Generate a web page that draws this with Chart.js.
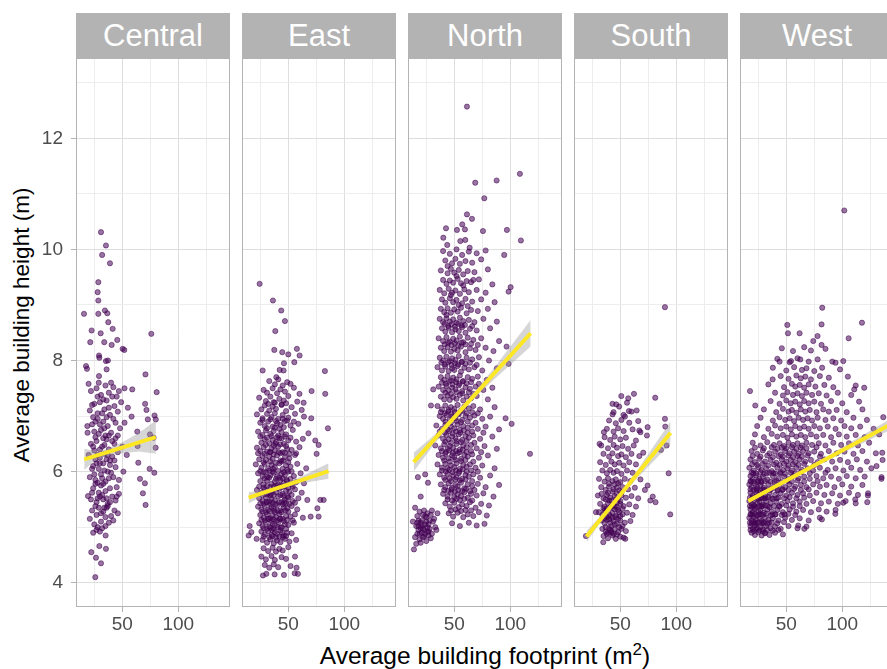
<!DOCTYPE html>
<html>
<head>
<meta charset="utf-8">
<script src="https://cdn.jsdelivr.net/npm/chart.js@4.4.0/dist/chart.umd.min.js"></script>
<style>
  body { margin: 0; width: 887px; height: 669px; overflow: hidden; position: relative; background: #fff;
         font-family: "Liberation Sans", Arial, sans-serif; }
  canvas { position: absolute; }
  .strip { position: absolute; top: 13px; height: 45px; width: 154px; background: #b3b3b3; color: #fff;
           font-size: 31px; line-height: 45px; text-align: center; }
  #xtitle { position: absolute; left: 76px; width: 818px; top: 642px; height: 28px; line-height: 28px;
            text-align: center; font-size: 24.5px; color: #000; white-space: nowrap; }
  #xtitle sup { font-size: 17px; line-height: 0; }
  #ytitle { position: absolute; left: -128px; top: 311px; width: 300px; height: 28px; line-height: 28px;
            text-align: center; font-size: 22.5px; color: #000; transform: rotate(-90deg); white-space: nowrap; }
</style>
</head>
<body>
<div id="ytitle">Average building height (m)</div>
<div id="xtitle">Average building footprint (m<sup>2</sup>)</div>
<script>
// facets and axis breaks
const regions = ['Central', 'East', 'North', 'South', 'West'];
const xTicks = [25, 50, 75, 100, 125];
const xLabels = [50, 100];
const yTicks = [4, 5, 6, 7, 8, 9, 10, 11, 12, 13];
const yLabels = [4, 6, 8, 10, 12];

// points: [footprint m2, height m]
const centralPts = [
  [31,10.31],[35.4,10.07],[32,9.9],[39,9.75],[28.6,9.41],[28,9.23],[28.6,9.08],[15.8,8.84],[28.6,8.84],[34.5,8.9],
  [36.6,8.85],[37.5,8.69],[22.6,8.54],[30.7,8.49],[41.4,8.57],[75.9,8.48],[21.4,8.33],[33.9,8.33],[40.5,8.28],[45.5,8.37],
  [50.3,8.21],[51.8,8.19],[29.2,8.09],[29.5,8.05],[35.4,7.99],[37.2,8.0],[17.6,7.9],[18.5,7.85],[36,7.84],[29.2,7.72],
  [70.7,7.75],[80.7,7.43],[19.9,7.58],[70.4,7.22],[71.6,7.11],[72.8,6.94],[78.8,7.01],[79.9,6.94],[74.7,6.67],[78,6.61],
  [79.8,6.43],[63.4,6.72],[58.3,6.99],[58.9,7.48],[63.7,6.46],[64.3,6.16],[65.8,5.87],[70.2,5.79],[68.4,5.61],[70.8,5.4],
  [74.4,6.05],[78.6,5.98],[18.8,6.82],[19.4,5.56],[22.3,4.55],[26.5,4.45],[31,4.35],[25.9,4.1],[29.5,4.66],[35.4,4.61],[35.1,4.85],
  [22,7.45],[27,7.5],[31,7.38],[35,7.55],[38,7.42],[42,7.52],[45,7.35],[29,7.6],[33,7.3],[40,7.6],[47,7.45],[52,7.5],
  [21,7.1],[25,7.22],[28,7.05],[30,7.25],[34,7.12],[36,7.28],[39,7.02],[43,7.18],[46,7.08],[49,7.25],[55,7.15],[24,6.98],
  [19,6.7],[23,6.85],[26,6.62],[28,6.95],[31,6.75],[33,6.9],[35,6.65],[37,6.82],[40,6.7],[42,6.95],[44,6.6],[48,6.78],[52,6.88],[29,6.68],[36,6.98],
  [20,6.3],[22,6.5],[25,6.38],[27,6.55],[30,6.25],[32,6.45],[34,6.32],[36,6.58],[38,6.4],[41,6.27],[43,6.5],[46,6.35],[50,6.45],[54,6.3],[26,6.22],[33,6.6],[39,6.2],
  [21,5.9],[24,6.1],[26,5.85],[29,6.05],[31,5.95],[33,6.15],[35,5.82],[37,6.0],[39,6.12],[42,5.9],[44,6.08],[47,5.85],[51,6.0],[28,5.8],[34,6.02],[40,5.98],
  [22,5.5],[24,5.7],[27,5.45],[29,5.62],[31,5.75],[33,5.5],[35,5.65],[37,5.42],[39,5.7],[41,5.55],[44,5.48],[47,5.6],[26,5.78],[32,5.58],[36,5.52],
  [21,5.15],[23,5.3],[25,5.05],[27,5.22],[29,5.35],[31,5.1],[33,5.28],[35,5.18],[37,5.38],[40,5.2],[43,5.3],[46,5.25],[28,5.0],[32,4.98],[38,5.08],[24,4.9],[30,4.92],
  [30,6.85],[34,6.48],[27,6.15],[32,5.88],[36,5.35],[30,5.55],[38,6.65],[25,6.72],[41,7.35],[28,7.35],
  [23,7.2],[32,7.05],[38,7.15],[44,6.88],[26,6.9],[34,6.78],[41,6.55],[46,6.65],[24,6.45],[30,6.4],[37,6.3],[28,6.3],
  [23,6.05],[30,6.15],[36,6.22],[43,6.2],[25,5.95],[33,5.78],[38,5.88],[45,5.72],[23,5.62],[28,5.52],[34,5.35],[39,5.45],
  [42,5.12],[26,5.38],[31,5.25],[35,5.02],[27,4.95],[45,5.55]
];

const eastPts = [
  [24.4,9.38],[36.3,9.08],[43.7,8.9],[47,8.71],[38.4,8.53],[37.5,8.19],[44.6,8.15],[50,8.11],[57.7,8.21],[60.1,8.09],
  [55.4,7.97],[46.1,7.95],[27.1,7.82],[42.3,7.83],[45.8,7.82],[39.3,7.7],[82.7,7.81],[83,7.4],[70.8,7.45],[85.4,6.78],
  [63.7,7.24],[70.5,6.96],[74.1,6.56],[77.1,6.48],[75.3,6.32],[78.6,5.49],[81.6,5.49],[77.1,5.19],[76,5.34],[70,5.19],
  [15.5,5.02],[14.6,4.85],[21.7,4.79],[17,4.91],[55.7,4.17],[58.6,4.16],[57.4,4.27],[27.4,4.13],[30.4,4.16],[37.8,4.15],[46.1,4.14],
  [33,7.63],[38,7.57],[41,7.66],[45,7.55],[49,7.61],[52,7.58],
  [28,7.47],[31,7.42],[36,7.5],[40,7.41],[43,7.48],[47,7.44],[55,7.51],[60,7.4],
  [24,7.33],[30,7.27],[34,7.35],[37,7.25],[42,7.31],[46,7.28],[50,7.36],[58,7.26],
  [26,7.12],[29,7.19],[33,7.1],[36,7.17],[39,7.13],[44,7.2],[48,7.09],[53,7.16],[62,7.11],
  [22,7.03],[27,6.96],[31,7.04],[35,6.98],[38,7.05],[41,6.95],[45,7.02],[50,6.97],[56,7.04],[64,6.99],
  [25,6.88],[29,6.82],[32,6.9],[36,6.81],[40,6.87],[43,6.84],[47,6.91],[52,6.83],[59,6.86],
  [23,6.72],[27,6.66],[30,6.74],[34,6.68],[37,6.73],[41,6.65],[44,6.71],[48,6.67],[54,6.75],[68,6.69],
  [26,6.52],[29,6.58],[33,6.51],[36,6.57],[39,6.53],[42,6.6],[46,6.5],[50,6.56],[57,6.54],[63,6.59],
  [22,6.43],[25,6.37],[28,6.44],[31,6.36],[35,6.42],[38,6.38],[41,6.45],[45,6.35],[49,6.41],[53,6.39],[60,6.44],
  [24,6.22],[27,6.28],[30,6.21],[33,6.27],[36,6.23],[40,6.29],[43,6.2],[47,6.26],[51,6.24],[56,6.3],
  [21,6.13],[26,6.07],[29,6.14],[32,6.06],[35,6.12],[38,6.08],[42,6.15],[45,6.05],[48,6.11],[52,6.09],[58,6.14],[66,6.06],
  [23,5.97],[27,5.92],[30,5.99],[34,5.93],[37,5.98],[40,5.91],[44,5.96],[47,5.94],[50,6.0],[55,5.92],[61,5.97],
  [25,5.83],[28,5.77],[31,5.84],[35,5.78],[38,5.82],[41,5.76],[43,5.85],[46,5.79],[49,5.83],[53,5.77],[57,5.81],[64,5.79],
  [22,5.67],[26,5.62],[29,5.68],[32,5.61],[36,5.66],[39,5.63],[42,5.69],[45,5.6],[48,5.65],[51,5.64],[56,5.68],[62,5.62],
  [24,5.52],[27,5.47],[30,5.54],[33,5.46],[35,5.51],[38,5.48],[41,5.55],[44,5.45],[47,5.5],[50,5.53],[54,5.47],[59,5.52],[67,5.49],
  [23,5.37],[26,5.32],[29,5.38],[32,5.31],[35,5.36],[37,5.33],[40,5.39],[43,5.3],[46,5.35],[49,5.34],[53,5.38],[58,5.32],
  [25,5.22],[28,5.17],[31,5.23],[34,5.16],[36,5.21],[39,5.18],[42,5.24],[45,5.15],[48,5.2],[52,5.19],[56,5.23],[63,5.17],
  [24,5.07],[27,5.02],[30,5.08],[33,5.01],[36,5.06],[38,5.03],[41,5.09],[44,5.0],[47,5.05],[50,5.04],[55,5.08],
  [26,4.92],[29,4.87],[32,4.93],[35,4.86],[38,4.91],[40,4.88],[43,4.94],[46,4.85],[49,4.9],[53,4.89],
  [27,4.77],[31,4.72],[34,4.78],[37,4.71],[40,4.76],[43,4.73],[47,4.79],[51,4.74],[57,4.77],
  [28,4.62],[32,4.57],[36,4.63],[39,4.56],[42,4.61],[45,4.58],[50,4.64],
  [26,4.47],[30,4.42],[35,4.48],[38,4.41],[44,4.46],[48,4.43],[56,4.47],
  [29,4.32],[33,4.27],[37,4.33],[41,4.28],[52,4.3],
  [31.5,5.9],[34.5,5.6],[37.5,5.3],[40.5,5.0],[43.5,5.75],[46.5,5.45],[33.5,6.35],[36.5,6.05],[39.5,5.75],[42.5,5.15],
  [45.5,6.2],[48.5,5.85],[32.5,5.15],[35.5,4.95],[38.5,6.5],[41.5,6.35],[44.5,4.9],[47.5,5.3],[30.5,5.45],[49.5,5.55],
  [32,7.22],[38,7.24],[44,7.21],[48,7.23],
  [27,6.93],[34,6.94],[39,6.91],[45,6.95],[49,6.92],[55,6.9],
  [31,6.78],[38,6.79],[42,6.77],[46,6.8],
  [25,6.63],[31,6.61],[35,6.64],[40,6.62],[44,6.6],[47,6.63],[52,6.61],
  [30,6.48],[37,6.47],[43,6.49],[48,6.46],
  [23,6.33],[29,6.32],[34,6.35],[37,6.31],[43,6.33],[47,6.34],[51,6.32],[57,6.33],
  [28,6.17],[34,6.18],[39,6.16],[44,6.18],[50,6.17],
  [25,6.01],[28,5.99],[33,6.02],[36,6.0],[41,6.01],[46,5.99],[49,6.03],[53,6.0],
  [29,5.88],[33,5.89],[39,5.87],[42,5.89],[45,5.88],[52,5.87],
  [24,5.73],[28,5.71],[31,5.74],[34,5.72],[37,5.73],[40,5.7],[44,5.72],[47,5.74],[50,5.71],[54,5.73],
  [27,5.58],[31,5.59],[34,5.57],[37,5.58],[43,5.58],[46,5.56],[53,5.58],
  [25,5.43],[28,5.42],[31,5.45],[34,5.41],[36,5.44],[39,5.42],[42,5.45],[45,5.41],[48,5.43],[51,5.42],[56,5.44],
  [27,5.28],[30,5.27],[33,5.29],[38,5.27],[41,5.29],[44,5.27],[50,5.28],
  [26,5.13],[29,5.12],[32,5.15],[35,5.11],[37,5.14],[40,5.12],[43,5.15],[46,5.11],[49,5.13],[54,5.12],
  [28,4.98],[31,4.97],[34,4.99],[37,4.97],[43,4.99],[48,4.97],
  [28,4.83],[33,4.82],[36,4.84],[39,4.81],[42,4.83],[45,4.82],[48,4.84]
];

const northPts = [
  [61.3,12.57],[108.6,11.36],[87.8,11.24],[68.7,11.2],[76.8,10.92],[61.3,10.63],[65.8,10.55],[57.1,10.45],[42.6,10.38],[52.4,10.35],
  [59.5,10.36],[75.6,10.33],[97,10.35],[109.5,10.16],[40.2,10.21],[43.7,10.08],[55.4,10.15],[59.8,10.17],[63.7,10.03],[94.6,9.9],
  [100.3,9.32],[98.5,9.24],[117.6,6.32],[95.8,6.96],[101.2,6.86],[98.5,7.94],[96.7,8.25],[31.2,7.48],[29.2,7.19],
  [26.5,5.8],[24,5.95],[20,5.55],[17.5,5.9],
  [40,9.97],[46,9.92],[52,10.0],[57,9.9],[63,9.96],[70,9.93],[78,9.98],
  [42,9.8],[48,9.75],[51,9.83],[55,9.74],[60,9.79],[66,9.76],[74,9.82],
  [38,9.62],[44,9.57],[47,9.65],[50,9.58],[54,9.63],[58,9.55],[62,9.61],[68,9.59],[80,9.64],
  [40,9.45],[43,9.38],[46,9.44],[49,9.4],[53,9.47],[56,9.39],[61,9.43],[65,9.41],[72,9.46],[84,9.37],
  [37,9.27],[41,9.21],[45,9.29],[48,9.22],[51,9.26],[55,9.2],[59,9.28],[63,9.23],[70,9.27],[78,9.22],
  [39,9.1],[42,9.04],[46,9.12],[49,9.05],[52,9.09],[57,9.03],[60,9.11],[66,9.06],[74,9.1],[86,9.05],
  [38,8.93],[41,8.87],[44,8.94],[47,8.86],[50,8.92],[53,8.88],[56,8.95],[61,8.85],[65,8.91],[71,8.89],[80,8.93],
  [37,8.75],[40,8.69],[43,8.76],[46,8.7],[49,8.74],[52,8.68],[55,8.77],[58,8.71],[63,8.73],[68,8.69],[76,8.75],[88,8.7],
  [39,8.58],[42,8.52],[45,8.59],[48,8.51],[51,8.56],[54,8.53],[57,8.6],[60,8.5],[64,8.57],[70,8.54],[82,8.58],
  [36,8.4],[40,8.35],[43,8.42],[46,8.34],[49,8.39],[52,8.36],[55,8.43],[58,8.33],[62,8.41],[67,8.37],[74,8.4],[90,8.35],
  [38,8.23],[41,8.17],[44,8.24],[47,8.16],[50,8.21],[53,8.18],[56,8.25],[60,8.15],[64,8.22],[69,8.19],[78,8.23],[85,8.17],
  [37,8.05],[40,8.0],[43,8.07],[46,7.99],[48,8.04],[51,8.01],[54,8.08],[57,7.98],[61,8.05],[66,8.02],[72,8.06],[81,8.0],
  [35,7.88],[39,7.82],[42,7.89],[45,7.81],[48,7.86],[50,7.83],[53,7.9],[56,7.8],[59,7.87],[63,7.84],[68,7.88],[75,7.82],[88,7.86],
  [38,7.7],[41,7.65],[44,7.72],[47,7.64],[49,7.69],[52,7.66],[55,7.73],[58,7.63],[62,7.7],[66,7.67],[71,7.71],[79,7.65],
  [36,7.53],[40,7.47],[43,7.54],[45,7.46],[48,7.51],[51,7.48],[54,7.55],[57,7.45],[60,7.52],[64,7.49],[69,7.53],[76,7.47],[84,7.51],
  [38,7.35],[41,7.3],[44,7.37],[46,7.29],[49,7.34],[52,7.31],[55,7.38],[58,7.28],[61,7.35],[65,7.32],[70,7.36],[80,7.3],
  [35,7.18],[39,7.12],[42,7.19],[45,7.11],[47,7.16],[50,7.13],[53,7.2],[56,7.1],[59,7.17],[63,7.14],[67,7.18],[73,7.12],[86,7.16],
  [37,7.0],[40,6.95],[43,7.02],[46,6.94],[48,6.99],[51,6.96],[54,7.03],[57,6.93],[60,7.0],[64,6.97],[68,7.01],[75,6.95],[82,6.99],
  [34,6.83],[39,6.77],[42,6.84],[44,6.76],[47,6.81],[50,6.78],[53,6.85],[55,6.75],[58,6.82],[62,6.79],[66,6.83],[71,6.77],[78,6.81],[90,6.76],
  [36,6.65],[40,6.59],[43,6.66],[45,6.58],[48,6.63],[51,6.6],[54,6.67],[57,6.57],[60,6.64],[63,6.61],[67,6.65],[73,6.59],[84,6.63],
  [33,6.47],[38,6.42],[41,6.49],[44,6.41],[46,6.46],[49,6.43],[52,6.5],[55,6.4],[58,6.47],[61,6.44],[65,6.48],[70,6.42],[77,6.46],[88,6.41],
  [36,6.3],[40,6.25],[42,6.32],[45,6.24],[48,6.29],[50,6.26],[53,6.33],[56,6.23],[59,6.3],[62,6.27],[66,6.31],[72,6.25],[80,6.29],
  [35,6.13],[39,6.07],[42,6.14],[44,6.06],[47,6.11],[50,6.08],[52,6.15],[55,6.05],[58,6.12],[61,6.09],[64,6.13],[69,6.07],[75,6.11],[86,6.06],
  [37,5.95],[41,5.89],[44,5.96],[46,5.88],[49,5.93],[52,5.9],[54,5.97],[57,5.87],[60,5.94],[63,5.91],[67,5.95],[73,5.89],[82,5.93],
  [38,5.77],[42,5.72],[45,5.79],[48,5.71],[51,5.76],[53,5.73],[56,5.8],[59,5.7],[62,5.77],[66,5.74],[71,5.78],[78,5.72],[90,5.76],
  [40,5.6],[44,5.55],[47,5.62],[50,5.54],[53,5.59],[56,5.56],[59,5.63],[62,5.53],[65,5.6],[70,5.57],[76,5.61],[85,5.55],
  [42,5.43],[46,5.37],[50,5.44],[54,5.36],[57,5.41],[61,5.38],[64,5.45],[69,5.35],[74,5.42],[81,5.39],
  [45,5.25],[49,5.19],[53,5.26],[58,5.18],[62,5.23],[67,5.2],[72,5.27],[79,5.21],
  [48,5.07],[55,5.02],[63,5.08],[70,5.03],[77,5.06],
  [44,9.7],[52,9.52],[58,9.35],[47,9.18],[54,9.0],[62,8.98],[43,8.82],[67,9.45],
  [41.5,8.66],[44.5,8.62],[47.5,8.65],[50.5,8.61],[53.5,8.66],[56.5,8.63],[59.5,8.64],[66,8.62],
  [41.5,8.29],[44.5,8.32],[47.5,8.28],[50.5,8.31],[53.5,8.27],[56.5,8.32],[60,8.29],[65,8.3],[71,8.28],
  [38.5,7.96],[41.5,7.93],[44.5,7.97],[47.5,7.92],[50.5,7.95],[53.5,7.93],[56.5,7.97],[60,7.94],[64,7.96],[70,7.92],
  [39,7.6],[42.5,7.58],[45.5,7.62],[48.5,7.57],[51.5,7.61],[54.5,7.58],[57.5,7.62],[61,7.59],[65,7.61],[72,7.58],
  [42,7.42],[47,7.4],[52,7.43],[57,7.41],[63,7.43],[67,7.4],
  [38,7.07],[41.5,7.05],[44.5,7.08],[47.5,7.04],[50.5,7.07],[53.5,7.05],[57.5,7.09],[61,7.05],[66,7.07],[71,7.05],
  [42,6.9],[47,6.88],[52,6.91],[56,6.89],[62,6.9],[69,6.88],
  [37,6.72],[41.5,6.7],[45.5,6.73],[48.5,6.69],[51.5,6.72],[55.5,6.7],[58.5,6.74],[62,6.7],[66,6.72],[76,6.7],
  [42,6.54],[47,6.52],[52,6.55],[56,6.53],[61,6.55],[68,6.52],
  [39,6.37],[42.5,6.35],[45.5,6.38],[48.5,6.34],[51.5,6.37],[54.5,6.35],[57.5,6.39],[61,6.35],[65,6.37],[74,6.35],
  [41,6.2],[46,6.18],[51,6.21],[56,6.19],[60,6.21],[67,6.18],
  [39,6.02],[42.5,6.0],[45.5,6.03],[48.5,5.99],[51.5,6.02],[54.5,6.0],[57.5,6.04],[61,6.0],[65,6.02],[71,6.0],
  [42,5.85],[47,5.83],[51,5.86],[55,5.84],[60,5.86],[66,5.83],
  [41,5.67],[44.5,5.65],[47.5,5.68],[50.5,5.64],[53.5,5.67],[57,5.65],[60.5,5.69],[64,5.65],[68,5.67],
  [44,5.5],[48,5.48],[52,5.51],[55,5.49],[59,5.51],[66,5.48],
  [47,5.3],[51,5.32],[56,5.29],[60,5.31],[65,5.3],
  [15,5.35],[17,5.2],[19,5.28],[21,5.12],[23,5.3],[25,5.18],[27,5.05],[29,5.22],[31,5.1],[33,5.0],
  [16,5.02],[18,4.95],[20,5.08],[22,4.98],[24,5.05],[26,4.92],[28,4.97],[30,4.88],[32,5.15],[34,4.95],
  [15,4.82],[17,4.88],[19,4.78],[21,4.9],[23,4.83],[25,4.75],[27,4.85],[29,4.8],[16,4.7],[20,4.72],
  [14,4.6],[18,5.12],[22,5.22],[26,5.25],[24,4.88],[28,5.12],[20,4.98],[35,5.25],[30,5.3],[13,5.1],
  [18,5.02],[21,5.03],[23,4.95],[25,5.1],[27,4.92],[19,4.88],[22,4.82],[26,5.0],[17,5.08],[24,5.2]
];

const southPts = [
  [89.9,8.96],[50.9,7.36],[57.1,7.32],[62.2,7.4],[81.2,7.33],[46.4,7.21],[43.1,7.03],[54.2,6.99],[64.6,7.1],[57.7,7.09],
  [89.9,6.95],[90.2,6.81],[74.4,6.8],[67,6.74],[73.8,6.65],[35.4,6.71],[31.5,6.5],[91.4,6.47],[86.3,6.39],[70.5,6.34],
  [93.2,5.97],[74.4,5.75],[94.6,5.23],[76.8,5.48],[81.5,5.45],[54.5,4.79],[34.8,4.73],[28.3,5.27],[33.3,5.6],[19.3,4.84],
  [43,7.22],[49,7.17],[56,7.24],
  [44,7.07],[53,7.02],[60,7.08],
  [40,6.92],[46,6.87],[51,6.93],[58,6.88],[66,6.91],
  [38,6.77],[44,6.72],[48,6.78],[53,6.73],[61,6.76],[68,6.71],
  [36,6.62],[41,6.57],[45,6.63],[50,6.58],[55,6.61],[64,6.56],
  [33,6.47],[39,6.42],[44,6.48],[47,6.43],[52,6.46],[57,6.41],[62,6.47],
  [35,6.32],[40,6.27],[43,6.33],[48,6.28],[51,6.31],[55,6.26],[60,6.32],[67,6.28],
  [32,6.17],[37,6.12],[42,6.18],[45,6.13],[49,6.16],[53,6.11],[58,6.17],[64,6.13],
  [34,6.02],[38,5.97],[41,6.03],[44,5.98],[47,6.01],[51,5.96],[56,6.02],[61,5.98],
  [31,5.87],[36,5.82],[39,5.88],[43,5.83],[46,5.86],[50,5.81],[54,5.87],[59,5.83],[68,5.86],
  [33,5.72],[37,5.67],[40,5.73],[44,5.68],[47,5.71],[49,5.66],[52,5.72],[57,5.68],[63,5.71],[72,5.67],
  [30,5.57],[35,5.52],[38,5.58],[41,5.53],[45,5.56],[48,5.51],[51,5.57],[55,5.53],[60,5.56],[66,5.52],[79,5.55],
  [32,5.42],[36,5.37],[39,5.43],[42,5.38],[44,5.41],[47,5.36],[50,5.42],[53,5.38],[58,5.41],[64,5.37],
  [31,5.27],[34,5.22],[37,5.28],[40,5.23],[43,5.26],[46,5.21],[49,5.27],[52,5.23],[56,5.26],[61,5.22],
  [33,5.12],[36,5.07],[38,5.13],[41,5.08],[44,5.11],[47,5.06],[50,5.12],[54,5.08],[59,5.11],
  [34,4.97],[37,4.92],[40,4.98],[42,4.93],[45,4.96],[48,4.91],[51,4.97],[55,4.93],
  [35,4.84],[39,4.8],[43,4.85],[46,4.79],[50,4.83],[53,4.81],
  [38,5.18],[42,5.02],[45,5.32],[48,5.15],[40,5.48],[36,5.3],[44,4.88],[47,5.45],[41,5.2],[39,4.9],
  [37,5.0],[41,4.95],[45,5.05],[49,5.0],[52,5.02],[36,5.16],[40,5.14],[43,5.17],[46,5.18],[50,5.2],
  [35,5.34],[38,5.33],[41,5.35],[45,5.37],[48,5.31],[52,5.33],[37,5.5],[42,5.48],[46,5.5],[50,5.47],
  [39,5.62],[43,5.64],[47,5.6],[51,5.62],[40,5.78],[45,5.77],[48,5.79],[38,4.88],[42,4.9],[47,4.87]
];

const westPts = [
  [101.8,10.7],[82.1,8.95],[50.9,8.64],[81.5,8.65],[117.6,8.68],[51.5,8.49],[61.9,8.49],[105.7,8.4],[74.1,8.35],[77.9,8.44],
  [81.5,8.28],[17.6,7.45],[22.3,7.19],[37.8,7.66],[44,7.98],[54.2,7.99],[62.5,8.02],[91.1,7.98],[100.9,7.99],[119.6,7.51],
  [110.7,7.48],[136.6,6.98],[135.7,6.34],[135.1,5.9],[130.6,6.1],[122.3,5.45],[122.9,5.57],[111.6,5.5],[100.9,5.44],[93.8,5.24],
  [81.8,5.14],[66.1,4.97],[60.7,5.03],[31,4.9],
  [46,8.22],[56,8.17],[66,8.24],[72,8.18],[85,8.21],
  [42,8.03],[53,7.97],[60,8.04],[70,7.98],[78,8.02],[94,7.96],
  [38,7.87],[50,7.82],[57,7.88],[64,7.83],[68,7.86],[75,7.81],[82,7.87],[98,7.84],
  [45,7.72],[52,7.67],[59,7.73],[63,7.68],[67,7.71],[72,7.66],[80,7.72],[88,7.69],[105,7.71],
  [34,7.57],[48,7.52],[55,7.58],[58,7.53],[62,7.56],[66,7.51],[70,7.57],[76,7.53],[84,7.56],[92,7.52],[112,7.55],
  [40,7.42],[47,7.37],[51,7.43],[56,7.38],[60,7.41],[64,7.36],[68,7.42],[73,7.38],[79,7.41],[86,7.37],[96,7.42],[108,7.38],
  [36,7.27],[44,7.22],[50,7.28],[54,7.23],[58,7.26],[62,7.21],[66,7.27],[70,7.23],[75,7.26],[81,7.22],[90,7.27],[100,7.23],[115,7.26],
  [30,7.12],[41,7.07],[47,7.13],[52,7.08],[55,7.11],[59,7.06],[63,7.12],[67,7.08],[71,7.11],[77,7.07],[83,7.12],[88,7.08],[95,7.11],[104,7.07],[118,7.12],
  [27,6.97],[38,6.92],[44,6.98],[49,6.93],[53,6.96],[57,6.91],[61,6.97],[65,6.93],[69,6.96],[73,6.92],[78,6.97],[85,6.93],[92,6.96],[99,6.92],[110,6.97],[122,6.93],
  [24,6.82],[34,6.77],[40,6.83],[45,6.78],[50,6.81],[54,6.76],[58,6.82],[62,6.78],[66,6.81],[70,6.77],[75,6.82],[80,6.78],[87,6.81],[94,6.77],[102,6.82],[108,6.78],[116,6.81],[128,6.77],
  [22,6.67],[30,6.62],[37,6.68],[42,6.63],[47,6.66],[51,6.61],[55,6.67],[59,6.63],[63,6.66],[67,6.62],[72,6.67],[77,6.63],[83,6.66],[90,6.62],[97,6.67],[104,6.63],[112,6.66],[120,6.62],[133,6.67],
  [20,6.52],[27,6.47],[33,6.53],[39,6.48],[44,6.51],[48,6.46],[52,6.52],[56,6.48],[60,6.51],[64,6.47],[68,6.52],[73,6.48],[79,6.51],[85,6.47],[92,6.52],[99,6.48],[106,6.51],[114,6.47],[124,6.52],
  [19,6.37],[24,6.32],[29,6.38],[35,6.33],[40,6.36],[45,6.31],[49,6.37],[53,6.33],[57,6.36],[61,6.32],[65,6.37],[70,6.33],[75,6.36],[81,6.32],[88,6.37],[95,6.33],[102,6.36],[110,6.32],[118,6.37],[130,6.33],
  [18,6.22],[22,6.17],[26,6.23],[31,6.18],[36,6.21],[41,6.16],[46,6.22],[50,6.18],[54,6.21],[58,6.17],[62,6.22],[67,6.18],[72,6.21],[78,6.17],[84,6.22],[91,6.18],[98,6.21],[105,6.17],[113,6.22],[122,6.18],[136,6.21],
  [17,6.07],[21,6.02],[25,6.08],[28,6.03],[32,6.06],[37,6.01],[42,6.07],[47,6.03],[51,6.06],[55,6.02],[59,6.07],[64,6.03],[69,6.06],[74,6.02],[80,6.07],[87,6.03],[94,6.06],[101,6.02],[108,6.07],[116,6.03],[126,6.06],
  [18,5.92],[20,5.87],[23,5.93],[26,5.88],[29,5.91],[33,5.86],[38,5.92],[43,5.88],[48,5.91],[52,5.87],[56,5.92],[61,5.88],[66,5.91],[71,5.87],[77,5.92],[83,5.88],[90,5.91],[97,5.87],[104,5.92],[112,5.88],[120,5.91],[135,5.87],
  [17,5.77],[19,5.72],[22,5.78],[24,5.73],[27,5.76],[30,5.71],[34,5.77],[39,5.73],[44,5.76],[49,5.72],[53,5.77],[58,5.73],[63,5.76],[68,5.72],[74,5.77],[80,5.73],[86,5.76],[93,5.72],[100,5.77],[108,5.73],[118,5.76],
  [18,5.62],[20,5.57],[23,5.63],[25,5.58],[28,5.61],[31,5.56],[35,5.62],[40,5.58],[45,5.61],[50,5.57],[55,5.62],[60,5.58],[65,5.61],[71,5.57],[77,5.62],[84,5.58],[91,5.61],[98,5.57],[106,5.62],[114,5.58],[123,5.61],
  [17,5.47],[19,5.42],[21,5.48],[24,5.43],[26,5.46],[29,5.41],[32,5.47],[36,5.43],[41,5.46],[46,5.42],[51,5.47],[56,5.43],[62,5.46],[68,5.42],[74,5.47],[81,5.43],[88,5.46],[96,5.42],[103,5.47],[112,5.43],
  [18,5.32],[20,5.27],[22,5.33],[25,5.28],[27,5.31],[30,5.26],[33,5.32],[37,5.28],[42,5.31],[47,5.27],[53,5.32],[59,5.28],[65,5.31],[72,5.27],[79,5.32],[86,5.28],[94,5.31],
  [17,5.17],[19,5.12],[21,5.18],[23,5.13],[26,5.16],[28,5.11],[31,5.17],[34,5.13],[38,5.16],[43,5.12],[49,5.17],[55,5.13],[62,5.16],[70,5.12],[80,5.17],
  [18,5.02],[20,4.97],[22,5.03],[24,4.98],[27,5.01],[29,4.96],[32,5.02],[36,4.98],[40,5.01],[45,4.97],[52,5.02],[60,4.98],[68,5.01],
  [19,4.9],[22,4.86],[25,4.91],[28,4.85],[31,4.89],[35,4.86],[40,4.9],[47,4.87],
  [19.5,5.52],[21.5,5.38],[23.5,5.67],[25.5,5.23],[27.5,5.82],[29.5,5.08],[31.5,5.52],[33.5,5.38],[35.5,5.67],[37.5,5.23],
  [39.5,5.82],[41.5,5.52],[43.5,5.38],[20.5,5.97],[22.5,5.08],[24.5,5.82],[26.5,5.52],[28.5,5.38],[30.5,5.67],[32.5,5.97],
  [34.5,5.08],[36.5,5.52],[38.5,5.97],[40.5,5.23],[42.5,5.67],[18.5,5.23],[18.5,5.82],[44.5,5.97],[46.5,5.67],[48.5,5.23],
  [22,6.43],[30,6.42],[37,6.44],[42,6.41],[46,6.43],[50,6.42],[55,6.44],[59,6.41],[63,6.43],[68,6.42],[77,6.44],
  [20,6.28],[27,6.27],[33,6.29],[38,6.26],[43,6.28],[47,6.27],[52,6.29],[56,6.26],[60,6.28],[64,6.27],[69,6.29],[80,6.27],
  [19.5,6.13],[24,6.12],[29,6.14],[34,6.11],[39,6.13],[44,6.12],[48,6.14],[52,6.11],[56,6.13],[61,6.12],[66,6.14],[75,6.12],
  [19,5.98],[23,5.97],[27,5.99],[30,5.96],[35,5.98],[40,5.97],[45,5.99],[49,5.96],[54,5.98],[58,5.97],[63,5.99],[71,5.97],[85,5.98],
  [18,5.83],[21,5.82],[25,5.84],[28,5.81],[31,5.83],[36,5.82],[41,5.84],[46,5.81],[51,5.83],[55,5.82],[60,5.84],[66,5.82],[78,5.83],
  [18,5.68],[21,5.67],[24,5.69],[27,5.66],[29,5.68],[33,5.67],[37,5.69],[42,5.66],[47,5.68],[52,5.67],[57,5.69],[63,5.67],[70,5.68],
  [17.5,5.53],[20,5.52],[22,5.54],[25,5.51],[28,5.53],[30,5.52],[34,5.54],[38,5.51],[43,5.53],[48,5.52],[53,5.54],[59,5.52],[66,5.53],
  [17.5,5.38],[19,5.37],[21,5.39],[23,5.36],[26,5.38],[28,5.37],[31,5.39],[35,5.36],[39,5.38],[44,5.37],[50,5.39],[56,5.37],[62,5.38],
  [18,5.23],[20,5.22],[22,5.24],[24,5.21],[27,5.23],[29,5.22],[32,5.24],[36,5.21],[40,5.23],[46,5.22],[52,5.24],[58,5.22],
  [17.5,5.08],[19,5.07],[21,5.09],[23,5.06],[25,5.08],[28,5.07],[30,5.09],[33,5.06],[37,5.08],[42,5.07],[48,5.09],
  [18,4.95],[21,4.93],[23,4.96],[26,4.94],[29,4.93],[33,4.95],[38,4.94],[43,4.95]
];

// fitted lines and their confidence bands
const centralFit = [[16,6.22],[80,6.62]];
const centralHi = [[16,6.41],[25,6.37],[35,6.4],[50,6.53],[65,6.7],[80,6.92]];
const centralLo = [[16,6.03],[25,6.19],[35,6.28],[50,6.33],[65,6.36],[80,6.32]];
const eastFit = [[14.6,5.53],[86,6.01]];
const eastHi = [[14.6,5.63],[30,5.68],[42,5.75],[60,5.9],[86,6.15]];
const eastLo = [[14.6,5.43],[30,5.58],[42,5.68],[60,5.78],[86,5.87]];
const northFit = [[13.7,6.17],[118.2,8.49]];
const northHi = [[13.7,6.34],[30,6.62],[50,7.02],[65,7.36],[85,7.85],[118.2,8.73]];
const northLo = [[13.7,6.0],[30,6.44],[50,6.94],[65,7.26],[85,7.65],[118.2,8.25]];
const southFit = [[19.9,4.83],[94.9,6.7]];
const southHi = [[19.9,4.93],[35,5.26],[48,5.57],[65,6.02],[94.9,6.9]];
const southLo = [[19.9,4.73],[35,5.16],[48,5.49],[65,5.88],[94.9,6.5]];
const westFit = [[16.1,5.47],[142,6.84]];
const westHi = [[16.1,5.52],[35,5.7],[55,5.92],[85,6.26],[115,6.62],[142,6.94]];
const westLo = [[16.1,5.42],[35,5.65],[55,5.87],[85,6.18],[115,6.48],[142,6.74]];

const pointsBy = [centralPts, eastPts, northPts, southPts, westPts];
const fitBy = [centralFit, eastFit, northFit, southFit, westFit];
const hiBy = [centralHi, eastHi, northHi, southHi, westHi];
const loBy = [centralLo, eastLo, northLo, southLo, westLo];

const FONT = '"Liberation Sans", Arial, sans-serif';
const panelLeft = [76, 242, 408, 574, 740];
const PANEL_W = 154, TOP = 58, CANVAS_H = 611, AREA_H = 549;

const frame = {
  id: 'frame',
  afterDraw(chart) {
    const a = chart.chartArea, g = chart.ctx;
    g.save();
    g.strokeStyle = '#b3b3b3';
    g.lineWidth = 1;
    g.strokeRect(a.left + 0.5, a.top + 0.5, a.right - a.left - 1, a.bottom - a.top - 1);
    g.restore();
  }
};

function makePanel(i) {
  const first = i === 0;
  const strip = document.createElement('div');
  strip.className = 'strip';
  strip.style.left = panelLeft[i] + 'px';
  strip.textContent = regions[i];
  document.body.appendChild(strip);

  const cv = document.createElement('canvas');
  cv.width = first ? panelLeft[0] + PANEL_W : PANEL_W;
  cv.height = CANVAS_H;
  cv.style.left = (first ? 0 : panelLeft[i]) + 'px';
  cv.style.top = TOP + 'px';
  document.body.appendChild(cv);

  const isX = c => c.tick && xLabels.includes(c.tick.value);
  const isY = c => c.tick && yLabels.includes(c.tick.value);

  new Chart(cv, {
    type: 'scatter',
    data: {
      datasets: [
        { type: 'line', data: fitBy[i], borderColor: '#FDE725', borderWidth: 4, pointRadius: 0, fill: false },
        { type: 'line', data: hiBy[i], borderColor: 'rgba(0,0,0,0)', borderWidth: 0, pointRadius: 0,
          fill: '+1', backgroundColor: 'rgba(153,153,153,0.4)' },
        { type: 'line', data: loBy[i], borderColor: 'rgba(0,0,0,0)', borderWidth: 0, pointRadius: 0, fill: false },
        { data: pointsBy[i], pointRadius: 2.6, borderWidth: 0.8,
          backgroundColor: 'rgba(68,1,84,0.55)', borderColor: 'rgba(68,1,84,0.65)' }
      ]
    },
    options: {
      responsive: false,
      animation: false,
      events: [],
      layout: { padding: 0, autoPadding: false },
      plugins: { legend: { display: false }, tooltip: { enabled: false } },
      scales: {
        x: {
          type: 'linear', min: 8.66, max: 146.2,
          afterBuildTicks: s => { s.ticks = xTicks.map(v => ({ value: v })); },
          afterFit: s => { s.height = CANVAS_H - AREA_H; s.paddingLeft = 0; s.paddingRight = 0; },
          border: { display: false },
          grid: { color: c => isX(c) ? '#dedede' : '#ededed', tickLength: 5,
                  tickColor: c => isX(c) ? '#b3b3b3' : 'rgba(0,0,0,0)' },
          ticks: { autoSkip: false, maxRotation: 0, padding: 1, color: '#4d4d4d',
                   font: { size: 19, family: FONT },
                   callback: v => xLabels.includes(v) ? String(v) : '' }
        },
        y: {
          type: 'linear', min: 3.563, max: 13.445,
          afterBuildTicks: s => { s.ticks = yTicks.map(v => ({ value: v })); },
          afterFit: s => { s.width = first ? panelLeft[0] : 0; s.paddingTop = 0; s.paddingBottom = 0; },
          border: { display: false },
          grid: { color: c => isY(c) ? '#dedede' : '#ededed', drawTicks: first, tickLength: 5,
                  tickColor: c => isY(c) ? '#b3b3b3' : 'rgba(0,0,0,0)' },
          ticks: { display: first, padding: 8, color: '#4d4d4d',
                   font: { size: 19, family: FONT },
                   callback: v => yLabels.includes(v) ? String(v) : '' }
        }
      }
    },
    plugins: [frame]
  });
}

regions.forEach((r, i) => makePanel(i));
</script>
</body>
</html>
